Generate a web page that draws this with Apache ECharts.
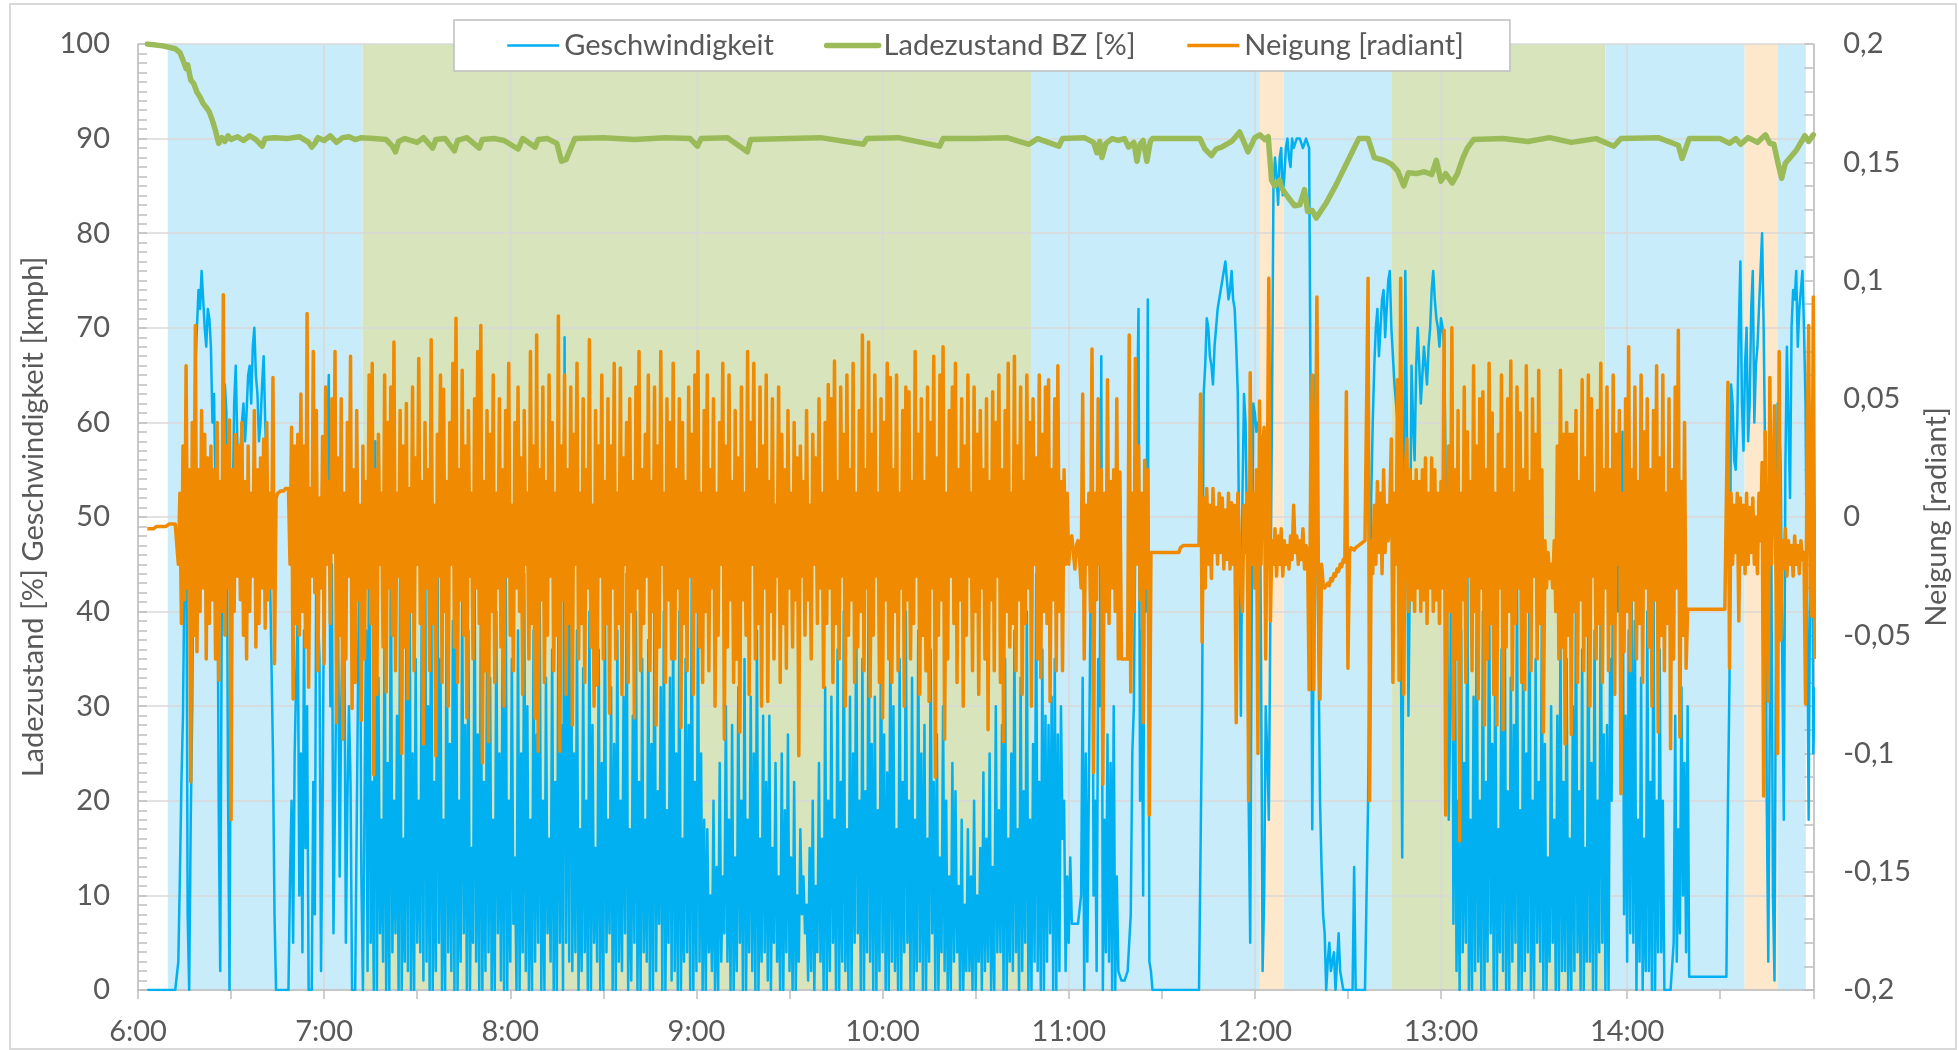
<!DOCTYPE html>
<html>
<head>
<meta charset="utf-8">
<script src="https://cdn.jsdelivr.net/npm/echarts@6/dist/echarts.min.js"></script>
<style>
  html, body { margin: 0; padding: 0; background: #fff; overflow: hidden; }
  #chart { width: 1959px; height: 1050px; }
</style>
</head>
<body>
<div id="chart"></div>
<script>
// samples of speed / tilt: first one at 6:03, one every 30 s
const FIRST_SAMPLE_MIN = 3;   // minutes after 6:00
const SAMPLE_STEP_MIN = 0.5;

// Geschwindigkeit [kmph], one row = 10 minutes
const speed = [
  /* 6:03 */ 0,0,0,0,0,0,0,0,0,0,0,0,0,0,0,0,0,0,0,0,
  /* 6:13 */ 3,12,22,29,45,60,8,0,18,30,55,66,70,74,72,76,73,70,68,72,
  /* 6:23 */ 71,68,60,63,52,55,20,2,40,55,64,61,22,0,42,50,62,66,58,55,
  /* 6:33 */ 57,60,62,58,61,65,66,62,68,70,65,63,58,60,64,67,60,55,50,45,
  /* 6:43 */ 35,25,8,0,0,0,0,0,0,0,0,0,12,20,5,25,33,40,10,25,
  /* 6:53 */ 4,38,15,30,0,0,0,22,8,50,40,35,2,20,45,55,58,65,30,45,
  /* 7:03 */ 6,20,35,40,12,30,38,40,5,20,30,22,0,0,0,0,35,50,12,0,
  /* 7:13 */ 0,38,2,55,5,22,0,58,0,33,6,18,3,42,0,24,0,48,4,20,
  /* 7:23 */ 6,29,0,45,0,16,3,38,2,52,0,25,0,35,5,20,4,44,1,56,
  /* 7:33 */ 3,30,0,48,0,22,2,52,5,35,0,18,0,44,4,26,2,39,0,50,
  /* 7:43 */ 0,20,3,42,6,28,0,38,0,15,5,45,3,27,0,41,0,22,2,36,
  /* 7:53 */ 4,33,0,18,0,40,6,25,1,36,0,48,0,20,3,35,7,14,0,38,
  /* 8:03 */ 0,25,4,44,2,30,0,18,0,38,3,27,5,42,0,20,0,33,6,16,
  /* 8:13 */ 3,36,0,22,0,40,5,28,0,69,5,40,3,62,2,25,4,38,0,17,
  /* 8:23 */ 2,34,4,20,0,40,0,28,5,15,3,36,0,24,0,42,4,18,6,32,
  /* 8:33 */ 0,26,0,38,3,20,2,31,6,44,0,17,1,29,5,40,0,22,0,35,
  /* 8:43 */ 4,18,3,37,0,26,0,44,2,21,7,32,0,40,0,19,5,33,1,39,
  /* 8:53 */ 2,25,0,40,0,16,3,35,4,28,0,45,0,22,2,41,3,25,0,18,
  /* 9:03 */ 0,17,4,10,2,20,0,13,0,24,3,12,6,30,3,18,0,28,0,14,
  /* 9:13 */ 2,32,5,20,0,35,0,18,4,31,2,25,0,38,0,16,3,29,4,22,
  /* 9:23 */ 1,29,0,15,5,24,3,12,0,25,0,19,4,27,2,14,0,22,0,10,
  /* 9:33 */ 3,17,8,12,6,9,1,15,2,20,0,11,4,24,3,16,0,32,0,20,
  /* 9:43 */ 2,31,5,18,0,36,0,22,3,40,2,17,0,31,0,25,5,42,6,20,
  /* 9:53 */ 0,35,0,21,4,44,3,26,0,31,0,19,2,40,4,27,0,23,0,38,
  /* 10:03 */ 3,30,2,17,0,35,0,22,4,40,5,20,0,33,0,18,2,38,3,25,
  /* 10:13 */ 0,28,0,16,3,36,6,22,0,27,0,14,4,30,2,20,0,12,0,24,
  /* 10:23 */ 3,21,4,11,0,18,0,9,2,17,2,12,0,20,0,10,3,15,0,23,
  /* 10:33 */ 2,16,3,25,0,13,0,30,4,19,4,28,0,35,0,16,3,25,2,38,
  /* 10:43 */ 4,17,0,33,2,21,5,40,0,18,0,26,3,44,2,22,0,36,0,29,
  /* 10:53 */ 3,28,6,31,0,35,0,27,2,30,16,20,2,12,5,14,7,7,7,7,
  /* 11:03 */ 7,7,10,33,0,25,3,22,40,66,10,20,2,35,30,67,0,18,4,27,
  /* 11:13 */ 3,24,0,30,0,12,2,2,1,1,1,1,2,2,8,25,30,50,60,72,
  /* 11:23 */ 20,38,10,55,40,73,3,2,0,0,0,0,0,0,0,0,0,0,0,0,
  /* 11:33 */ 0,0,0,0,0,0,0,0,0,0,0,0,0,0,0,0,0,0,0,0,
  /* 11:43 */ 30,63,66,71,70,67,66,64,68,70,72,73,74,75,76,77,75,73,74,76,
  /* 11:53 */ 73,72,68,63,45,29,52,63,60,48,20,5,40,62,61,59,60,59,35,2,
  /* 12:03 */ 10,30,25,18,40,60,85,88,86,83,88,89,84,86,89,90,88,87,90,89,
  /* 12:13 */ 89,90,90,90,90,89,89,90,90,89,60,17,40,65,50,36,20,13,8,6,
  /* 12:23 */ 0,3,5,2,3,4,0,0,6,2,1,0,0,0,0,0,0,0,13,0,
  /* 12:33 */ 0,0,0,0,0,0,0,20,38,52,60,66,70,72,67,70,73,74,69,72,
  /* 12:43 */ 75,76,70,67,64,62,60,58,40,14,50,76,60,29,45,66,60,56,66,70,
  /* 12:53 */ 66,62,65,68,66,64,68,70,74,76,73,71,70,68,71,70,68,55,40,18,
  /* 13:03 */ 30,68,7,40,2,20,0,38,4,24,5,45,0,18,0,31,2,42,3,20,
  /* 13:13 */ 0,40,0,22,3,45,6,26,0,38,0,17,4,36,2,48,0,21,0,33,
  /* 13:23 */ 3,28,5,44,0,19,0,38,2,25,4,46,0,20,0,35,5,22,3,40,
  /* 13:33 */ 0,26,0,14,3,30,5,18,0,29,0,38,2,22,2,35,0,16,0,30,
  /* 13:43 */ 2,42,4,21,0,36,0,15,3,44,3,24,0,38,0,20,4,45,5,27,
  /* 13:53 */ 0,28,0,35,20,50,45,58,40,56,48,59,8,29,3,38,6,41,5,39,
  /* 14:03 */ 0,18,3,33,0,16,2,40,2,22,0,45,0,20,4,36,4,20,0,0,
  /* 14:13 */ 0,0,0,0,5,29,3,17,6,32,10,24,4,30,1.4,1.4,1.4,1.4,1.4,1.4,
  /* 14:23 */ 1.4,1.4,1.4,1.4,1.4,1.4,1.4,1.4,1.4,1.4,1.4,1.4,1.4,1.4,1.4,1.4,1.4,1.4,1.4,20,
  /* 14:33 */ 33,64,62,56,55,60,70,77,62,57,66,70,58,62,72,76,60,66,68,72,
  /* 14:43 */ 76,80,70,56,20,3,30,45,10,1,40,62,60,55,35,18,55,68,60,52,
  /* 14:53 */ 70,74,73,76,68,72,74,76,70,62,40,18,45,62,25,32
];

// Neigung [radiant], same sampling
const tilt = [
  /* 6:03 */ -.005,-.005,-.005,-.005,-.005,-.005,-.004,-.004,-.004,-.004,-.004,-.004,-.004,-.004,-.003,-.003,-.003,-.003,-.003,-.003,
  /* 6:13 */ -.02,.01,-.045,.03,-.035,.064,-.03,.02,-.112,.04,-.05,.081,-.057,.02,-.04,.045,-.03,.035,-.06,.025,
  /* 6:23 */ -.045,.03,-.035,.02,-.06,.04,-.069,.015,-.04,.094,-.05,.03,-.03,.041,-.128,.02,-.04,.035,-.025,.03,
  /* 6:33 */ -.035,.04,-.05,.015,-.06,.03,-.04,.01,-.025,.045,-.055,.02,-.045,.025,-.03,.033,-.047,.04,-.035,.01,
  /* 6:43 */ -.03,.059,-.062,.008,.01,.01,.011,.011,.011,.012,.012,.012,-.02,.038,-.077,.03,-.045,.035,-.05,.052,
  /* 6:53 */ -.04,.03,-.055,.086,-.072,.012,-.025,.07,-.032,.045,-.065,.008,-.03,.034,-.062,.055,-.02,.015,-.045,.05,
  /* 7:03 */ -.015,.07,-.087,.025,-.05,.05,-.094,.01,-.06,.04,-.025,.068,-.081,.02,-.07,.045,-.035,.005,-.086,.03,
  /* 7:13 */ -.06,.015,-.03,.06,-.045,.065,-.109,.02,-.075,.035,-.02,.01,-.055,.06,-.074,.04,-.03,.055,-.05,.074,
  /* 7:23 */ -.065,.01,-.025,.045,-.1,.03,-.055,.048,-.077,.012,-.04,.055,-.065,.025,-.02,.067,-.045,.015,-.096,.04,
  /* 7:33 */ -.03,.02,-.065,.075,-.045,.005,-.101,.035,-.025,.06,-.07,.054,-.04,.015,-.08,.04,-.02,.065,-.055,.084,
  /* 7:43 */ -.07,.02,-.035,.062,-.05,.03,-.085,.045,-.025,.01,-.06,.05,-.03,.07,-.045,.081,-.104,.015,-.065,.045,
  /* 7:53 */ -.095,.035,-.04,.06,-.07,.01,-.03,.05,-.055,.02,-.08,.045,-.025,.065,-.05,.005,-.065,.04,-.03,.055,
  /* 8:03 */ -.04,.025,-.075,.045,-.02,.01,-.06,.07,-.045,.03,-.085,.077,-.099,.02,-.035,.055,-.07,.015,-.05,.06,
  /* 8:13 */ -.025,.04,-.065,.01,-.05,.085,-.099,.03,-.035,.06,-.075,.02,-.045,.055,-.088,.035,-.02,.065,-.06,.01,
  /* 8:23 */ -.045,.05,-.07,.02,-.03,.075,-.055,.005,-.08,.045,-.071,.03,-.025,.06,-.06,.015,-.045,.05,-.083,.03,
  /* 8:33 */ -.03,.065,-.06,.01,-.045,.063,-.075,.025,-.02,.04,-.07,.05,-.04,.015,-.085,.055,-.03,.07,-.065,.02,
  /* 8:43 */ -.045,.035,-.025,.06,-.065,.015,-.04,.055,-.088,.03,-.055,.07,-.02,.01,-.07,.05,-.035,.04,-.06,.065,
  /* 8:53 */ -.06,.02,-.03,.05,-.089,.04,-.045,.015,-.065,.055,-.025,.035,-.075,.06,-.04,.07,-.055,.01,-.07,.045,
  /* 9:03 */ -.04,.06,-.065,.02,-.03,.05,-.08,.01,-.05,.04,-.02,.065,-.094,.03,-.055,.06,-.035,.015,-.07,.045,
  /* 9:13 */ -.06,.025,-.091,.055,-.035,.01,-.05,.07,-.075,.04,-.02,.065,-.06,.02,-.045,.055,-.08,.03,-.03,.06,
  /* 9:23 */ -.078,.015,-.04,.05,-.06,.005,-.025,.055,-.07,.035,-.045,.02,-.064,.045,-.03,.01,-.055,.04,-.035,.025,
  /* 9:33 */ -.101,.03,-.025,.015,-.05,.045,-.035,.005,-.06,.035,-.02,.025,-.045,.05,-.03,.01,-.072,.04,-.045,.056,
  /* 9:43 */ -.03,.05,-.07,.066,-.045,.015,-.06,.055,-.025,.035,-.08,.06,-.05,.02,-.035,.065,-.07,.01,-.055,.045,
  /* 9:53 */ -.04,.077,-.065,.02,-.03,.074,-.076,.035,-.05,.06,-.025,.01,-.07,.05,-.085,.04,-.035,.065,-.06,.059,
  /* 10:03 */ -.07,.02,-.04,.06,-.065,.01,-.03,.045,-.08,.055,-.035,.053,-.06,.015,-.045,.07,-.025,.035,-.075,.05,
  /* 10:13 */ -.05,.015,-.065,.055,-.078,.04,-.03,.068,-.11,.025,-.05,.06,-.035,.072,-.094,.01,-.06,.045,-.025,.055,
  /* 10:23 */ -.045,.065,-.07,.02,-.035,.05,-.08,.03,-.05,.06,-.025,.01,-.065,.055,-.04,.035,-.075,.045,-.03,.02,
  /* 10:33 */ -.06,.05,-.09,.015,-.035,.053,-.065,.04,-.025,.06,-.07,.02,-.095,.045,-.04,.065,-.055,.01,-.045,.068,
  /* 10:43 */ -.065,.03,-.035,.055,-.075,.015,-.045,.06,-.03,.04,-.08,.05,-.02,.025,-.06,.06,-.068,.035,-.04,.055,
  /* 10:53 */ -.045,.058,-.078,.02,-.035,.05,-.065,.064,-.04,.015,-.065,.02,-.02,.01,-.02,-.01,-.008,-.015,-.022,-.012,
  /* 11:03 */ -.01,-.018,-.03,.052,-.06,.005,-.02,.01,-.04,.071,-.108,.01,-.035,.05,-.02,.02,-.113,.01,-.04,.058,
  /* 11:13 */ -.045,.015,-.03,.02,-.04,.05,-.06,.019,-.06,-.06,-.06,-.06,-.06,.077,-.074,.01,-.04,.067,-.02,.03,
  /* 11:23 */ -.035,.01,-.087,.024,-.03,.02,-.126,-.015,-.015,-.015,-.015,-.015,-.015,-.015,-.015,-.015,-.015,-.015,-.015,-.015,
  /* 11:33 */ -.015,-.015,-.015,-.015,-.015,-.015,-.013,-.013,-.012,-.012,-.012,-.012,-.012,-.012,-.012,-.012,-.012,-.012,-.012,.052,
  /* 11:43 */ -.053,.008,-.03,.012,-.02,.005,-.026,.012,-.015,.004,-.02,.01,-.015,.008,-.022,.003,-.018,.01,-.022,.006,
  /* 11:53 */ -.02,.005,-.087,.01,-.01,-.03,-.04,.005,-.015,.01,-.12,.061,-.02,.01,-.03,.02,-.1,.049,-.02,.03,
  /* 12:03 */ .038,-.06,.01,.101,-.044,-.01,-.02,-.005,-.025,-.008,-.02,-.005,-.025,-.01,-.02,-.012,-.022,-.008,-.018,.005,
  /* 12:13 */ -.015,-.008,-.02,-.01,-.018,-.005,-.022,-.012,-.015,-.073,.02,.06,-.073,.01,.093,-.03,-.077,-.02,-.028,-.03,
  /* 12:23 */ -.03,-.028,-.029,-.026,-.027,-.024,-.025,-.022,-.023,-.02,-.021,-.018,-.019,.053,-.064,-.015,-.013,-.013,-.014,-.013,
  /* 12:33 */ -.013,-.012,-.012,-.011,-.011,-.01,-.01,.101,-.12,-.01,-.024,.005,-.02,.015,-.015,.01,-.024,.02,-.015,.005,
  /* 12:43 */ -.01,.005,.033,-.07,.01,-.02,.058,-.069,.101,-.02,-.075,.02,.033,-.04,.02,-.035,.015,-.04,.02,-.03,
  /* 12:53 */ .015,-.04,.02,-.035,.025,-.045,.01,-.03,.025,-.04,.02,-.035,.01,-.045,.015,-.03,.079,-.126,-.02,.03,
  /* 13:03 */ -.04,.08,-.094,.02,-.06,.045,-.137,.01,-.035,.055,-.07,.036,-.025,.015,-.065,.064,-.04,.03,-.077,.05,
  /* 13:13 */ -.03,.053,-.088,.02,-.06,.065,-.045,.044,-.075,.01,-.088,.035,-.03,.06,-.09,.02,-.055,.05,-.04,.066,
  /* 13:23 */ -.073,.01,-.045,.055,-.03,.044,-.07,.02,-.073,.064,-.04,.015,-.065,.05,-.025,.035,-.06,.062,-.045,.02,
  /* 13:33 */ -.091,-.01,-.03,-.015,-.026,-.02,-.03,-.01,-.04,.03,-.06,.062,-.055,.035,-.096,.04,-.05,.035,-.092,.035,
  /* 13:43 */ -.04,.045,-.07,.015,-.035,.058,-.065,.025,-.05,.06,-.08,.05,-.025,.01,-.06,.045,-.045,.065,-.07,.02,
  /* 13:53 */ -.03,.055,-.065,.02,-.045,.06,-.075,.035,-.02,.045,-.117,.01,-.057,.05,-.04,.072,-.065,.02,-.035,.055,
  /* 14:03 */ -.06,.015,-.045,.06,-.07,.036,-.03,.05,-.055,.02,-.08,.045,-.035,.064,-.091,.025,-.05,.06,-.065,.01,
  /* 14:13 */ -.045,.05,-.098,.02,-.06,.055,-.03,.079,-.093,.015,-.05,.04,-.064,-.039,-.039,-.039,-.039,-.039,-.039,-.039,
  /* 14:23 */ -.039,-.039,-.039,-.039,-.039,-.039,-.039,-.039,-.039,-.039,-.039,-.039,-.039,-.039,-.039,-.039,-.039,-.039,-.039,.057,
  /* 14:33 */ -.064,.01,-.02,.005,-.015,.01,-.044,.008,-.02,.005,-.024,.01,-.02,.004,-.015,.008,-.02,0,-.024,.01,
  /* 14:43 */ -.01,.023,-.118,.036,-.02,-.078,.059,-.02,.01,.047,-.03,-.1,.07,-.052,-.01,-.022,-.005,-.025,-.01,-.02,
  /* 14:53 */ -.012,-.025,-.008,-.02,-.012,-.024,-.01,-.018,-.015,-.079,.03,.081,-.03,-.042,.093,-.06
];

// Ladezustand BZ [%]: minutes after 6:00 and value
const socTime = [
  3,8,12,13.5,14.5,15.5,16,17,18,19,
  20,21,22,23,24,25,26,27,28,29,
  30,32,34,36,38,40,41,44,48,52,
  55,56,57,58,60,62,64,66,68,70,
  72,76,80,82,83,84,86,90,92,95,
  96,99,102,103,106,110,111,115,118,122.5,
  124,128,129,132,135,136.5,138,139,140.8,150,
  160,170,178,180.3,181.5,190,196.4,197.5,210,220,
  233.8,235,245,258.4,259.5,270,280,287.2,290,296.8,
  298,305,308,309.1,310,310.7,312,314,316,318,
  319.3,321,322,323,324,325.2,326.3,327,342.3,343.9,
  346,347.5,349.3,352.5,355.1,357.8,360,361.6,363.2,364.3,
  365.4,366.4,368,368.6,370.7,372.8,374.5,376,377,378.5,
  379.8,383,386,389,392,393.5,396.5,398.5,401.7,404,
  406,408,409.5,412,414.6,417,418.5,420,421.5,423.6,
  425.3,427,428.5,430.5,440,448,455,462,470,475.7,
  478,490,496.5,497.7,500,510,513,515,516.6,519,
  522,524.6,526,527.3,528.5,529.8,531,534.6,537.3,538.5,
  540
];
const socValue = [
  100,99.8,99.5,99.1,98.3,97.4,97.8,96.2,95.8,94.9,
  94.4,93.7,93.3,92.8,91.9,90.8,89.5,90.1,89.7,90.3,
  89.9,90.2,89.8,90.3,89.9,89.2,90,90.1,90,90.2,
  89.6,89.1,89.5,90.1,89.8,90.3,89.6,90.1,90.2,89.9,
  90.1,90,89.9,89.2,88.6,89.7,90,89.6,90.1,89,
  89.9,90,88.7,89.8,90.1,89,89.9,90,89.8,88.9,
  90,89.1,89.9,90,89.5,87.6,87.8,88.6,90,90.1,
  89.9,90.1,90,89.2,90,90.1,88.6,89.9,90,90.1,
  89.4,90,90.1,89.2,90,90,90.1,89.4,90,89.2,
  90,90.1,89.6,88.5,89.7,88,89.5,90,89.8,90,
  89.1,89.6,87.6,89.4,89.8,87.6,89.7,90,90,88.9,
  88.2,88.9,89.1,89.7,90.7,88.6,90.1,90.4,89.9,90.2,
  85.6,85,85.6,84.8,83.8,82.9,83,84.6,82.3,82.4,
  81.6,83.2,85,87,89,90,90,88,87.7,87.3,
  86.6,85,86.4,86.3,86.5,86.2,87.7,85.5,86.3,85.3,
  86.3,87.9,89,89.9,90,89.7,90.1,89.6,90,89.2,
  90,90.1,89.3,87.9,90,90,89.5,90,89.4,90.1,
  89.6,90.4,89.5,89.4,87.6,85.8,87.4,88.8,90.3,89.7,
  90.4
];

// operating phases shown as background bands (hours)
const phaseStart = [6.16, 7.207, 10.797, 12.027, 12.155, 12.737, 13.883, 14.631, 14.807];
const phaseEnd   = [7.207, 10.797, 12.027, 12.155, 12.737, 13.883, 14.631, 14.807, 14.96];
const phaseKind  = ['A', 'B', 'A', 'C', 'A', 'B', 'A', 'C', 'A'];

const FONT = 'Lato';
const FS = 29;
const TEXT = '#595959';
const bandColor = { A: '#C9ECFA', B: '#D7E4BC', C: '#FDE8CC' };
const toHour = m => 6 + m / 60;

const speedData = speed.map((v, i) => [toHour(FIRST_SAMPLE_MIN + i * SAMPLE_STEP_MIN), v]);
const tiltData = tilt.map((v, i) => [toHour(FIRST_SAMPLE_MIN + i * SAMPLE_STEP_MIN), v]);
const socData = socTime.map((m, i) => [toHour(m), socValue[i]]);

const bands = phaseStart.map((s, i) => [
  { xAxis: s, yAxis: -0.4, itemStyle: { color: bandColor[phaseKind[i]] } },
  { xAxis: phaseEnd[i], yAxis: 100.25 }
]);

const chart = echarts.init(document.getElementById('chart'));
const axisGray = '#bfbfbf';
const tickStyle = { color: axisGray, width: 1.5 };

chart.setOption({
  animation: false,
  backgroundColor: '#fff',
  textStyle: { fontFamily: FONT },
  graphic: [{
    type: 'rect', silent: true, z: -10,
    shape: { x: 10, y: 4, width: 1946, height: 1045 },
    style: { fill: 'none', stroke: '#d9d9d9', lineWidth: 2 }
  }],
  grid: { left: 138, right: 139, top: 44, bottom: 60 },
  legend: {
    data: ['Geschwindigkeit', 'Ladezustand BZ [%]', 'Neigung [radiant]'],
    left: 454, top: 20,
    padding: [11, 46, 11, 52],
    itemGap: 50, itemWidth: 52, itemHeight: 2,
    lineStyle: { width: 'inherit' },
    borderColor: axisGray, borderWidth: 1.5, backgroundColor: '#fff',
    textStyle: { fontFamily: FONT, fontSize: FS, color: TEXT }
  },
  xAxis: {
    type: 'value', min: 6, max: 15, interval: 1,
    axisLine: { show: true, lineStyle: tickStyle },
    axisTick: { show: true, length: 9, lineStyle: tickStyle },
    minorTick: { show: true, splitNumber: 2, length: 9, lineStyle: tickStyle },
    splitLine: { show: true, lineStyle: { color: '#d9d9d9', width: 1.5 } },
    axisLabel: {
      margin: 27, fontSize: FS, color: TEXT, fontFamily: FONT, showMaxLabel: false,
      formatter: v => Number.isInteger(v) ? v + ':00' : ''
    }
  },
  yAxis: [{
    type: 'value', min: 0, max: 100, interval: 10,
    name: 'Ladezustand [%] Geschwindigkeit [kmph]',
    nameLocation: 'middle', nameGap: 86, nameRotate: 90,
    nameTextStyle: { fontFamily: FONT, fontSize: FS, color: TEXT },
    axisLine: { show: true, lineStyle: tickStyle },
    axisTick: { show: true, inside: true, length: 9, lineStyle: tickStyle },
    minorTick: { show: true, splitNumber: 10, length: 9, lineStyle: tickStyle },
    splitLine: { show: true, lineStyle: { color: '#d9d9d9', width: 1.5 } },
    axisLabel: { margin: 28, fontSize: FS, color: TEXT, fontFamily: FONT }
  }, {
    type: 'value', position: 'right', min: -0.2, max: 0.2, interval: 0.05,
    name: 'Neigung [radiant]',
    nameLocation: 'middle', nameGap: 108, nameRotate: 90,
    nameTextStyle: { fontFamily: FONT, fontSize: FS, color: TEXT },
    axisLine: { show: true, lineStyle: tickStyle },
    axisTick: { show: true, inside: true, length: 9, lineStyle: tickStyle },
    minorTick: { show: true, splitNumber: 5, length: 9, lineStyle: tickStyle },
    splitLine: { show: false },
    axisLabel: {
      margin: 30, fontSize: FS, color: TEXT, fontFamily: FONT,
      formatter: v => String(Math.round(v * 100) / 100).replace('.', ',')
    }
  }],
  series: [{
    name: 'phases', type: 'line', data: [], z: -1, clip: false, silent: true,
    markArea: { silent: true, z: -1, data: bands }
  }, {
    name: 'Geschwindigkeit', type: 'line', yAxisIndex: 0,
    data: speedData, showSymbol: false, symbol: 'none', sampling: null,
    color: '#00B0F0',
    lineStyle: { width: 2.5, color: '#00B0F0', join: 'round' }
  }, {
    name: 'Ladezustand BZ [%]', type: 'line', yAxisIndex: 0,
    data: socData, showSymbol: false, symbol: 'none',
    color: '#9BBB59',
    lineStyle: { width: 5.5, color: '#9BBB59', join: 'round', cap: 'round' }
  }, {
    name: 'Neigung [radiant]', type: 'line', yAxisIndex: 1,
    data: tiltData, showSymbol: false, symbol: 'none', sampling: null,
    color: '#F08A00',
    lineStyle: { width: 3.5, color: '#F08A00', join: 'round' }
  }]
});
</script>
</body>
</html>
